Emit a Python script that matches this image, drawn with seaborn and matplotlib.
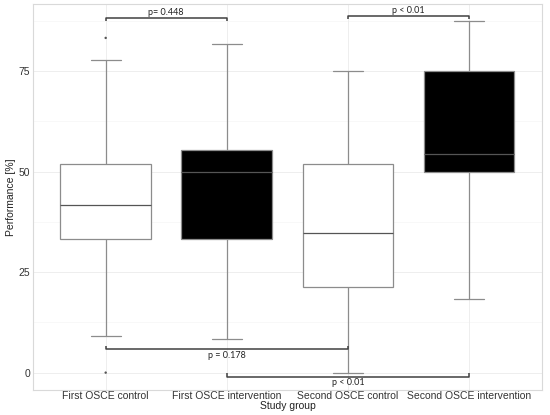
import numpy as np
import pandas as pd
import matplotlib
matplotlib.use("Agg")
import matplotlib.pyplot as plt
import seaborn as sns

groups = ["First OSCE control", "First OSCE intervention",
          "Second OSCE control", "Second OSCE intervention"]
whisker_low = [9.1, 8.3, 0.0, 18.2]
q1 = [33.3, 33.3, 21.2, 49.9]
median = [41.6, 50.0, 34.8, 54.4]
q3 = [52.0, 55.3, 52.0, 75.0]
whisker_high = [77.7, 81.7, 75.0, 87.4]
outlier_group = ["First OSCE control", "First OSCE control"]
outlier_value = [83.3, 0.0]
fills = ["white", "black", "white", "black"]

# brackets
bracket_start = [0, 2, 0, 1]
bracket_end = [1, 3, 2, 3]
bracket_y = [88.2, 88.7, 5.8, -1.0]
bracket_label = ["p= 0.448", "p < 0.01", "p = 0.178", "p < 0.01"]

sns.set_theme(style="white")
plt.rcParams["font.family"] = ["Liberation Sans", "DejaVu Sans"]

rows = []
for g, lo, a, m, b, hi in zip(groups, whisker_low, q1, median, q3, whisker_high):
    for v in (lo, a, m, b, hi):
        rows.append({"group": g, "value": v})
df = pd.DataFrame(rows)

fig = plt.figure(figsize=(5.5, 4.15), dpi=100)
ax = fig.add_axes([0.06, 0.06, 0.925, 0.93])

# grid
for v in [0, 25, 50, 75]:
    ax.axhline(v, color="#ebebeb", lw=0.6, zorder=0)
for v in [12.5, 37.5, 62.5, 87.5]:
    ax.axhline(v, color="#f4f4f4", lw=0.4, zorder=0)
for i in range(len(groups)):
    ax.axvline(i, color="#ebebeb", lw=0.6, zorder=0)

sns.boxplot(data=df, x="group", y="value", hue="group", order=groups,
            palette=dict(zip(groups, fills)), legend=False, whis=np.inf,
            width=0.75, linecolor="#8c8c8c", linewidth=0.9,
            medianprops={"color": "#555555", "linewidth": 0.9},
            ax=ax)

sns.scatterplot(x=outlier_group, y=outlier_value, color="#555555", s=3,
                edgecolor="none", ax=ax, zorder=5)

# cap widths
for line in ax.lines:
    xd = np.asarray(line.get_xdata(), dtype=float)
    yd = np.asarray(line.get_ydata(), dtype=float)
    if len(xd) == 2 and yd[0] == yd[1] and 0.01 < abs(xd[1] - xd[0]) < 0.5:
        c = (xd[0] + xd[1]) / 2
        line.set_xdata([c - 0.125, c + 0.125])

for s, e, y, lab in zip(bracket_start, bracket_end, bracket_y, bracket_label):
    top = y > 40
    d = -0.7 if top else 0.9
    ax.plot([s, s, e, e], [y + d, y, y, y + d], color="#404040", lw=1.1,
            solid_capstyle="butt", zorder=6)
    mid = (s + e) / 2
    if top:
        ax.text(mid, y + 0.3, lab, ha="center", va="bottom", fontsize=6.5,
                family=["Lato", "DejaVu Sans"], color="#222222")
    else:
        ax.text(mid, y - 0.4, lab, ha="center", va="top", fontsize=6.5,
                family=["Lato", "DejaVu Sans"], color="#222222")

ax.set_xlim(-0.6, 3.6)
ax.set_ylim(-4.35, 91.7)
ax.set_yticks([0, 25, 50, 75])
ax.set_xlabel("Study group", fontsize=7.5, labelpad=0, color="#222222")
ax.set_ylabel("Performance [%]", fontsize=7.5, labelpad=2, color="#222222")
ax.tick_params(axis="x", labelsize=7.5, colors="#333333", length=0, pad=1)
ax.tick_params(axis="y", labelsize=7.5, colors="#333333", length=0, pad=2)
for sp in ax.spines.values():
    sp.set_color("#d9d9d9")
    sp.set_linewidth(0.8)

fig.savefig("out.png", dpi=100)
